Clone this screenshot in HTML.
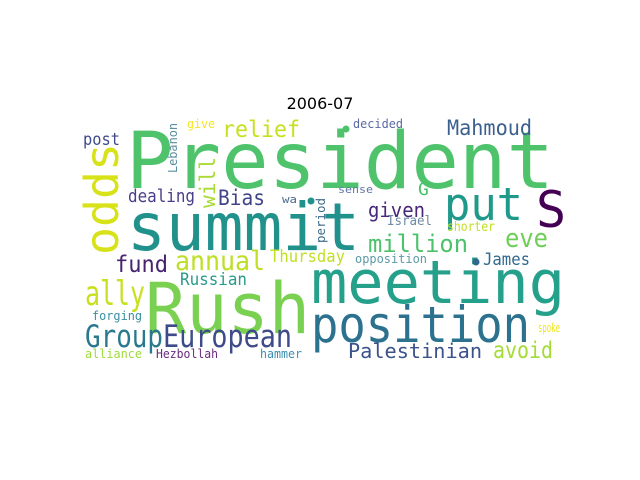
<!DOCTYPE html>
<html><head><meta charset="utf-8">
<style>
html,body{margin:0;padding:0;background:#fff;}
#wrap{position:relative;width:640px;height:480px;overflow:hidden;}
svg text{font-family:"DejaVu Sans Mono","Liberation Mono",monospace;}
</style></head>
<body>
<div id="wrap">
<svg id="cloud" width="640" height="480" viewBox="0 0 640 480">
<text x="320" y="109" text-anchor="middle" font-size="16" fill="#000" style="font-family:'DejaVu Sans','Liberation Sans',sans-serif">2006-07</text>
</svg>
</div>
<script>
const words = ["President","summit","S","put","meeting","Rush","position","Group","European","Palestinian","avoid","alliance","Hezbollah","hammer","forging","ally","Russian","fund","annual","Thursday","million","eve","James","opposition","spoke","Israel","shorter","G","given","sense","wa","dealing","Bias","give","relief","post","decided","Mahmoud","odds","will","Lebanon","period"];
const xs = [126,127,536,444,311,145,311,85,163,348,493,85,156,260,92,85,180,115,175,270,368,505,483,355,538,387,447,418,368,338,282,128,218,187,222,83,353,447,118,215,177,325];
const ys = [188,250,227,220,303,333,342,347,347,358,358,358,358,358,320,305,285,272,270,262,252,247,265,263,332,225,231,195,217,193,203,202,205,128,137,145,128,135,255,208,173,243];
const widths = [428,233,29,79,254,165,219,78,129,134,60,57,62,42,50,60,67,53,90,75,100,43,47,72,22,45,48,10,57,35,15,67,47,28,78,37,50,85,112,51,50,45];
const sizes = [78,66,50,45,60,70,50,31,31,20,23,12,12,12,12,34,17,23,27,17,24,26,17,12,12,13,13,18,20,11,11,18,21,12,23,17,12,21,46,21,12,12];
const colors = ["#4ec36b","#21918c","#440154","#1f998a","#25a08a","#7ad151","#2c718e","#2a788e","#3e4a89","#3b528b","#a5db36","#a0da39","#6b2a7e","#3d8fb0","#3b8fa0","#c8e020","#2a9a8a","#46246e","#bddf26","#c2df23","#4cc26c","#6ece58","#31688e","#5c9aa5","#f1e51d","#6c8aa5","#c2df23","#4ac16d","#482878","#6076a8","#4a6a8a","#4b3e8a","#414487","#f5e61f","#c8e020","#3e4a89","#5a6aa5","#3b5f8e","#d8e219","#a8db34","#5b8fa0","#3f6a8a"];
const rotated = [0,0,0,0,0,0,0,0,0,0,0,0,0,0,0,0,0,0,0,0,0,0,0,0,0,0,0,0,0,0,0,0,0,0,0,0,0,0,1,1,1,1];
const svg = document.getElementById('cloud');
const NS = 'http://www.w3.org/2000/svg';
for (let i = 0; i < words.length; i++) {
  const t = document.createElementNS(NS, 'text');
  t.textContent = words[i];
  t.setAttribute('font-size', sizes[i]);
  t.setAttribute('fill', colors[i]);
  if (words[i].length > 1) {
    t.setAttribute('textLength', widths[i]);
    t.setAttribute('lengthAdjust', 'spacingAndGlyphs');
  }
  if (rotated[i]) {
    t.setAttribute('x', 0);
    t.setAttribute('y', 0);
    t.setAttribute('transform', 'translate(' + xs[i] + ',' + ys[i] + ') rotate(-90)');
  } else {
    t.setAttribute('x', xs[i]);
    t.setAttribute('y', ys[i]);
  }
  
  
  svg.appendChild(t);
}
const dotX = [346,311,476];
const dotY = [129,201,262];
const dotC = ["#4ec36b","#21918c","#31688e"];
for (let i = 0; i < dotX.length; i++) {
  const c = document.createElementNS(NS, 'circle');
  c.setAttribute('cx', dotX[i]);
  c.setAttribute('cy', dotY[i]);
  c.setAttribute('r', 3.5);
  c.setAttribute('fill', dotC[i]);
  
  
  svg.appendChild(c);
}
</script>
</body></html>
